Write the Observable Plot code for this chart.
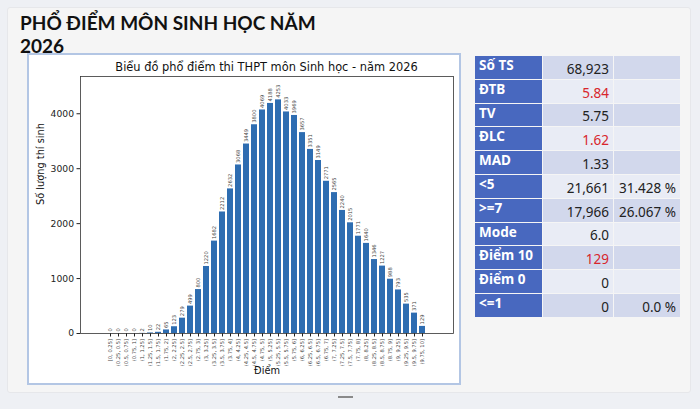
<!DOCTYPE html>
<html>
<head>
<meta charset="utf-8">
<script src="https://cdn.jsdelivr.net/npm/d3@7"></script>
<script src="https://cdn.jsdelivr.net/npm/@observablehq/plot@0.6"></script>
<style>
  html, body { margin: 0; padding: 0; }
  body { width: 700px; height: 409px; background: #eef0f4; position: relative; overflow: hidden; font-family: "Noto Sans", sans-serif; }
  #panel { position: absolute; left: 7px; top: 7px; width: 682px; height: 384px; background: #f5f5f5; border: 1px solid #e6e7ea; border-radius: 3px; }
  .tline { position: absolute; left: 20px; font-family: Lato, "Noto Sans", sans-serif; font-weight: bold; font-size: 19px; line-height: 23px; color: #111; white-space: nowrap; }
  #frame { position: absolute; left: 27px; top: 53px; width: 430px; height: 328px; border: 2px solid #b3c6e4; background: #fff; }
  #chart { position: absolute; left: 0; top: 0; }
  #ctitle { position: absolute; left: 51px; width: 373px; top: 6px; text-align: center; font-family: "DejaVu Sans", sans-serif; font-size: 11.4px; line-height: 12px; color: #111; }
  #stats { position: absolute; left: 474px; top: 55px; border-collapse: collapse; font-family: "Noto Sans", sans-serif; }
  #stats td { height: 23.8px; padding: 0 4px; border: 1.4px solid #f5f5f5; font-size: 13.5px; color: #222; box-sizing: border-box; }
  #stats td.lab { width: 68px; background: #4868bf; color: #fff; font-weight: bold; text-align: left; vertical-align: top; line-height: 19px; }
  #stats td.val { width: 71px; text-align: right; vertical-align: bottom; line-height: 20px; }
  #stats td.pct { width: 67px; text-align: right; vertical-align: bottom; line-height: 20px; }
  #stats tr.odd td.val, #stats tr.odd td.pct { background: #d2d8ec; }
  #stats tr.even td.val, #stats tr.even td.pct { background: #e9ecf5; }
  #stats .red { color: #d8262c; }
  #scroll { position: absolute; left: 338px; top: 396px; width: 15px; height: 1.5px; background: #8a8a8a; }
</style>
</head>
<body>
<div id="panel"></div>
<div class="tline" style="top:11px">PHỔ ĐIỂM MÔN SINH HỌC NĂM</div>
<div class="tline" style="top:34px">2026</div>
<div id="frame">
  <div id="chart"></div>
  <div id="ctitle"></div>
</div>
<table id="stats"></table>
<div id="scroll"></div>
<script>
const chartTitle = "Biểu đồ phổ điểm thi THPT môn Sinh học - năm 2026";
const xLabel = "Điểm";
const yLabel = "Số lượng thí sinh";

const bins = [
  "[0, 0.25]", "(0.25, 0.5]", "(0.5, 0.75]", "(0.75, 1]",
  "(1, 1.25]", "(1.25, 1.5]", "(1.5, 1.75]", "(1.75, 2]",
  "(2, 2.25]", "(2.25, 2.5]", "(2.5, 2.75]", "(2.75, 3]",
  "(3, 3.25]", "(3.25, 3.5]", "(3.5, 3.75]", "(3.75, 4]",
  "(4, 4.25]", "(4.25, 4.5]", "(4.5, 4.75]", "(4.75, 5]",
  "(5, 5.25]", "(5.25, 5.5]", "(5.5, 5.75]", "(5.75, 6]",
  "(6, 6.25]", "(6.25, 6.5]", "(6.5, 6.75]", "(6.75, 7]",
  "(7, 7.25]", "(7.25, 7.5]", "(7.5, 7.75]", "(7.75, 8]",
  "(8, 8.25]", "(8.25, 8.5]", "(8.5, 8.75]", "(8.75, 9]",
  "(9, 9.25]", "(9.25, 9.5]", "(9.5, 9.75]", "(9.75, 10]"
];
const counts = [
  0, 0, 0, 0,
  2, 10, 22, 65,
  123, 279, 499, 800,
  1220, 1682, 2212, 2632,
  3068, 3449, 3800, 4069,
  4188, 4253, 4033, 3969,
  3657, 3351, 3149, 2771,
  2565, 2240, 2015, 1771,
  1640, 1346, 1227, 988,
  793, 535, 371, 129
];
const yTicks = [0, 1000, 2000, 3000, 4000];

const statLabels = ["Số TS", "ĐTB", "TV", "ĐLC", "MAD", "<5", ">=7", "Mode", "Điểm 10", "Điểm 0", "<=1"];
const statValues = ["68,923", "5.84", "5.75", "1.62", "1.33", "21,661", "17,966", "6.0", "129", "0", "0"];
const statPercents = ["", "", "", "", "", "31.428 %", "26.067 %", "", "", "", "0.0 %"];
const statRed = [false, true, false, true, false, false, false, false, true, false, false];

const data = bins.map((b, i) => ({bin: b, count: counts[i]}));
const ymax = d3.max(counts) * 1.1;

document.getElementById("ctitle").textContent = chartTitle;

const plot = Plot.plot({
  width: 430,
  height: 328,
  marginLeft: 51,
  marginRight: 6,
  marginTop: 21,
  marginBottom: 50,
  style: {fontFamily: "DejaVu Sans, sans-serif", background: "white", color: "#222", overflow: "visible"},
  x: {type: "band", domain: bins, paddingInner: 0.2, paddingOuter: 1.99, align: 0.5},
  y: {domain: [0, ymax]},
  marks: [
    Plot.barY(data, {x: "bin", y: "count", fill: "#2e6db1"}),
    Plot.text(data, {x: "bin", y: "count", text: d => String(d.count), rotate: -90, textAnchor: "start", lineAnchor: "middle", dy: -2, fontSize: 5.2, fill: "#444"}),
    Plot.axisX({tickRotate: -90, fontSize: 5.2, tickSize: 3.5, tickPadding: 2, label: null, fill: "#444"}),
    Plot.axisY({ticks: yTicks, tickFormat: d => String(d), tickSize: 3.5, tickPadding: 3, fontSize: 9.2, label: null}),
    Plot.frame({stroke: "#333", strokeWidth: 0.8}),
    Plot.text([xLabel], {frameAnchor: "bottom", dy: 40, fontSize: 9.8, fill: "#111"}),
    Plot.text([yLabel], {frameAnchor: "left", dx: -40, rotate: -90, fontSize: 9.8, fill: "#111"})
  ]
});
document.getElementById("chart").appendChild(plot);

const table = document.getElementById("stats");
statLabels.forEach((lab, i) => {
  const tr = document.createElement("tr");
  tr.className = i % 2 === 0 ? "odd" : "even";
  const a = document.createElement("td"); a.className = "lab"; a.textContent = lab;
  const b = document.createElement("td"); b.className = "val" + (statRed[i] ? " red" : ""); b.textContent = statValues[i];
  const c = document.createElement("td"); c.className = "pct"; c.textContent = statPercents[i];
  tr.append(a, b, c);
  table.appendChild(tr);
});
</script>
</body>
</html>
